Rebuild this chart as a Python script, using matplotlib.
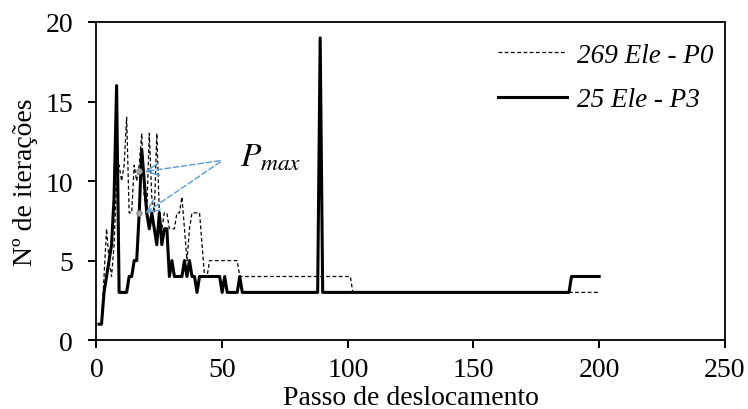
import matplotlib
matplotlib.use("Agg")
import matplotlib.pyplot as plt

plt.rcParams['font.family'] = ['Liberation Serif', 'DejaVu Serif']
plt.rcParams['mathtext.fontset'] = 'stix'

# number of iterations per displacement step (steps 1..200)
steps = list(range(1, 201))

p0_iters = ([1, 1, 4, 7, 5, 4, 6, 10, 11, 10, 11, 14, 8, 8, 11, 10, 11, 13, 9, 8,
             13, 9, 8, 13, 8, 7, 8, 8, 7, 7, 7, 8, 8, 9, 7, 5, 7, 8, 8, 8,
             8, 6, 4, 4]
            + [5] * 12 + [4] * 45 + [3] * 99)

p3_iters = ([1, 1, 3, 4, 5, 6, 9, 16, 3, 3, 3, 3, 4, 4, 5, 5,
             8, 12, 10, 8, 7, 8, 7, 6, 8, 6, 7, 7, 4, 5, 4, 4, 4, 4, 5, 4, 5, 4, 4,
             3] + [4] * 9 + [3, 4] + [3] * 5 + [4] + [3] * 31 + [19]
            + [3] * 99 + [4] * 12)

labels = ["269 Ele - P0", "25 Ele - P3"]

# P_max markers and label anchor
pmax_x = [16.9, 17.1]
pmax_y = [10.6, 8.0]
pmax_text = (50.2, 11.3)

fig = plt.figure(figsize=(7.48, 4.10), dpi=100)
ax = fig.add_axes([0.129, 0.168, 0.840, 0.776])

ax.plot(steps, p0_iters, color='black', lw=0.9, linestyle=(0, (3, 2)), label=labels[0])
ax.plot(steps, p3_iters, color='black', lw=2.2, label=labels[1])

blue = '#5B9BD5'
for px, py in zip(pmax_x, pmax_y):
    ax.annotate('', xy=(px + 2.4, py), xytext=pmax_text,
                arrowprops=dict(arrowstyle='-', color=blue, lw=1.0, linestyle=(0, (4, 2))))
    ax.annotate('', xy=(px + 2.4, py), xytext=(px + 4.5, py + (pmax_text[1] - py) * 0.07),
                arrowprops=dict(arrowstyle='->', color=blue, lw=1.0,
                                mutation_scale=22, shrinkA=0, shrinkB=0))
ax.plot(pmax_x, pmax_y, 'o', color='#A6A6A6', ms=4, mec='#7F7F7F', mew=0.6, zorder=5)
ax.text(pmax_text[0] + 7.0, pmax_text[1] + 0.2, '$P_{max}$', fontsize=24, va='center', ha='left')

ax.set_xlim(0, 250)
ax.set_ylim(0, 20)
ax.set_xticks([0, 50, 100, 150, 200, 250])
ax.set_yticks([0, 5, 10, 15, 20])
ax.tick_params(direction='out', length=5.8, width=1.4, labelsize=20, top=False, right=False)
ax.tick_params(axis='x', pad=6)
ax.tick_params(axis='y', pad=11)
for s in ax.spines.values():
    s.set_linewidth(1.3)

ax.set_xlabel("Passo de deslocamento", fontsize=20, labelpad=2.5)
ax.set_ylabel("Nº de iterações", fontsize=20, labelpad=5)

leg = ax.legend(loc='upper right', bbox_to_anchor=(0.999, 0.969), borderaxespad=0,
                frameon=False, handlelength=2.55, handletextpad=0.37, labelspacing=0.73,
                prop={'style': 'italic', 'size': 19.5, 'family': 'Liberation Serif'})

fig.savefig("out.png", dpi=100)
